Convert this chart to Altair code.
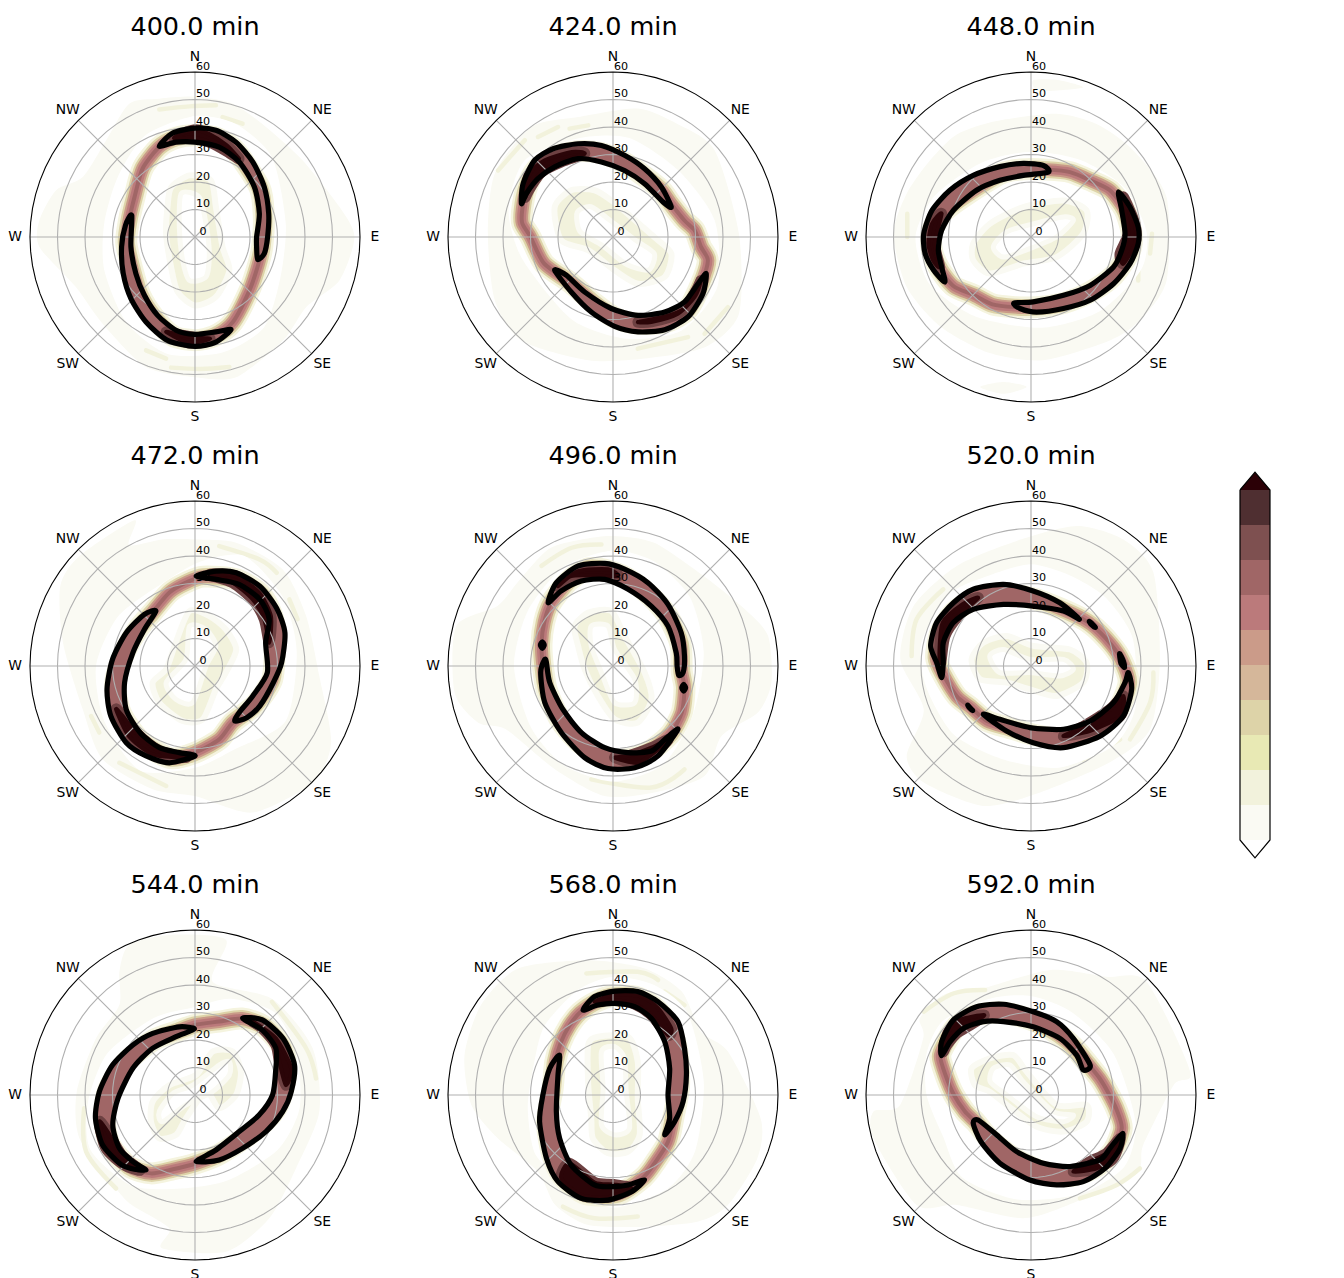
import altair as alt
import pandas as pd

FONT = "DejaVu Sans"
TIMES = [400.0, 424.0, 448.0, 472.0, 496.0, 520.0, 544.0, 568.0, 592.0]
RANGE_TICKS = [0, 10, 20, 30, 40, 50, 60]
RING_RADII = [10, 20, 30, 40, 50]
RING_AZIMUTH = list(range(0, 360, 5))
COMPASS_LABELS = ["N", "NE", "E", "SE", "S", "SW", "W", "NW"]
COMPASS_AZIMUTH = [0, 45, 90, 135, 180, 225, 270, 315]
W_LOWER = [0, 1, 2, 3, 4, 5, 6, 7, 8, 9]
W_UPPER = [1, 2, 3, 4, 5, 6, 7, 8, 9, 10]
W_COLORS = ["#fafaf3", "#f2f2dc", "#e8e9b4", "#ddd3a8", "#d5b79a",
            "#cb9b89", "#bb7a7b", "#a06666", "#7e5050", "#4f2f31"]
W_TICKS = [0, 2, 4, 6, 8, 10]

# Outlines are (east km, north km).
# 400 min
C400A = [(-13,33),(-8.1,37.8),(0,39.6),(7.6,38.8),(14.9,34.5),(21,27.3),(25.2,18.2),(26.8,8.5),(26.4,0),(25.2,-6),(22.8,-8.2),(22.4,-3.6),(22.4,0),(23.4,8.5),(21.6,18.2),(16.1,27.3),(8.8,32.7),(0,34.5),(-6.9,34.5)]
C400B = [(-23,7.9),(-25.3,4.2),(-26.7,-3.6),(-26.1,-13.3),(-23.3,-22.4),(-17.8,-30.9),(-10,-37.6),(0,-39.8),(7.6,-38.2),(13.1,-33.7),(7.6,-34.5),(0,-35.4),(-6.9,-33.9),(-13.6,-28.5),(-18.4,-21.2),(-21.5,-13.3),(-23.3,-3.6)]
D400A = [(-7,36.5),(0,39),(5,37.5),(11.3,33.5),(16,28.5),(12.6,30.5),(6.4,34),(0,36),(-7,35.8)]
D400B = [(-10.5,-34.5),(-4,-38),(0,-38.5),(5.5,-37),(0,-36.5),(-6,-35.5)]
B400 = [(0,37),(8,36),(15,31),(23.5,18),(25,8),(24.5,-3),(23,-10),(19.8,-19.4),(13.7,-31),(7,-36),(0,-37.5),(-8,-36),(-15,-29),(-20,-21),(-23,-11),(-25,-2),(-24,6),(-22,14.5),(-19,25),(-13,32.7),(-7,36)]
O400 = [(0,51),(13.7,48.5),(25.8,40),(39,28),(52.5,11),(58,0),(52.5,-15.8),(40.4,-25.5),(32,-37.6),(15,-51),(0,-51),(-17.8,-47.3),(-33.6,-31.5),(-43.3,-18.2),(-56.6,-3.6),(-56.6,6),(-50.5,17),(-40.8,21.8),(-32.4,35),(-23.9,48.5),(-13,50.3)]
G400 = [(0,44),(15,41),(28,29),(33,5),(31,-15),(25,-33),(10,-42),(-10,-42.5),(-25,-31),(-33,-12),(-33,5),(-28,22),(-18,37)]
I400 = [(-8.7,18),(-2,22.4),(5.8,20.6),(7.6,10.9),(10,-3.6),(12.5,-12.1),(7.6,-21.8),(0,-24.9),(-6.3,-20),(-8.7,-10.9),(-10.5,1.2),(-10,10.9)]
H400 = [(-5,15.8),(1.5,14.5),(4,4.8),(5.2,-6),(4,-14.5),(-2,-15.8),(-4.5,-8.5),(-5.7,3.6)]
Y400 = [[(-13,46.4),(-2,47.5),(7.6,47.9)],[(10,43.6),(17.3,41.2)],[(-17.8,-41.2),(-10.5,-44.2)],[(-8.7,-47.5),(2,-48),(12.5,-47.3)]]

# 424 min
C424A = [(-33.3,12.1),(-32.7,19.4),(-28.5,27.9),(-21.8,32.1),(-12.7,33.9),(-4.2,33.3),(4.2,29.7),(11.5,24.8),(17.6,18.2),(21.2,10.9),(18.2,12.7),(11.5,19.4),(4.2,24.2),(-4.2,27.3),(-12.7,28.5),(-21.2,25.5),(-27.3,21.2),(-31.5,15.8)]
C424B = [(33.9,-13.3),(32.7,-20.6),(27.3,-29),(18.8,-33.7),(9.1,-34.5),(0.6,-32.5),(-7.9,-27.3),(-15.2,-20),(-21.2,-12.1),(-17,-13.9),(-10.3,-20),(-0.6,-26),(9.1,-28.5),(18.8,-27.3),(26,-23.6),(30.9,-17)]
D424A = [(-32,14.5),(-30.3,23),(-24.8,27.9),(-15,30.9),(-10.3,30.3),(-18.8,27.3),(-26,23.6),(-30.3,17.6)]
D424B = [(32,-15.8),(29.7,-21.8),(23.6,-27.9),(13.9,-30.9),(9.1,-30.9),(18.8,-29),(26,-26),(30.3,-19.4)]
B424 = [(-33,5),(-30,0),(-25,-9.7),(-15,-17),(-7,-24),(1,-29.5),(9,-31.5),(19,-31),(27,-26.5),(32,-17),(34.5,-8.5),(32,-3.6),(29.7,2.4),(26,6),(21.2,12),(17.6,17),(11.5,22),(4.2,27),(-4.2,30.5),(-12.7,31.2),(-21.5,29),(-28,24.5),(-31.5,17.5),(-33,10)]
O424 = [(-12.7,43.6),(9,46.7),(23.6,41),(37,31.5),(45.8,1.2),(45.8,-27.9),(33.6,-40),(11.5,-44.2),(-9,-44.8),(-33.3,-37.6),(-43,-23),(-45.5,1.2),(-43,23),(-29.7,40)]
G424 = [(-12,36),(6,36),(24,24),(37,6),(38,-18),(25,-34),(5,-37),(-15,-30),(-33,-8),(-38,10),(-32,28)]
I424 = [(-21.2,10.9),(-15.2,17),(-6.7,17),(-0.6,13.3),(6.6,7.3),(15,0),(21.2,-6),(18.8,-14.5),(9.1,-17),(0.6,-12.1),(-9,-4.8),(-18.8,-1.2)]
H424 = [(-13,9),(-8,11),(-1,6),(8,-1),(15,-6),(13,-12),(5,-10),(-4,-3),(-12,2)]
Y424 = [[(-27.3,36.4),(-20,40)],[(-15.8,39.4),(-9,40.6)],[(-41.8,24.2),(-32.1,35.2)],[(33.3,-35.2),(41.8,-25.5)],[(9,-40.6),(27.3,-36.4)]]

# 448 min
C448A = [(6.3,23.6),(4.5,26),(-2.8,26.8),(-11.3,25.6),(-21,22.4),(-29.5,17),(-36,9.7),(-39,1.2),(-38.5,-6),(-35.4,-12.1),(-31.3,-16.4),(-32.5,-10.9),(-33.7,-4.8),(-32.5,2.4),(-28.2,9.7),(-19.8,17),(-11.3,20.6),(-2.8,22.4)]
C448B = [(31.8,16.4),(36,10.9),(39,3.6),(39,-2.4),(36,-9.7),(30,-17),(21.5,-23),(11.8,-26),(2,-27.3),(-4,-26),(-6.2,-24),(0.8,-23.6),(11.8,-21.2),(21.5,-17.6),(30,-10.9),(33,-4.8),(34.2,1.2),(33,9.7)]
D448A = [(-37.3,-2.4),(-36,4.8),(-32.5,8.5),(-35,-2.4),(-33.2,-10.9),(-35.6,-8.5)]
D448B = [(33.6,14.5),(37.8,4.8),(37.8,-2.4),(33.6,-9.7),(32.4,-6),(35.4,1.2),(34.2,9.7)]
B448 = [(-3,24.6),(6,24.5),(14.2,23.6),(21.5,20.6),(28.7,17),(34,10),(36.5,2),(36,-5),(30,-14),(21.5,-20),(12,-24),(2,-25.5),(-6,-25.5),(-14,-24.5),(-21,-21),(-28,-18),(-33,-12),(-36,-5),(-36,2),(-32,9),(-24,15),(-11,23)]
O448 = [(-27,37.3),(-12.5,42.2),(9.3,44.8),(24,41),(37.2,31.5),(49.3,14.5),(49.3,-15.8),(39.6,-30.3),(28.7,-37.6),(4.5,-44.8),(-15,-42.2),(-33,-32.5),(-45.2,-18.2),(-50,1.2),(-45.2,15.8),(-36.7,27.9)]
E448A = [(0.8,57),(9.3,57.2),(19,54.5),(9.3,53.3),(2,53.3)]
E448B = [(-18.5,-54.5),(-10,-52.7),(-1.6,-54.5),(-10,-57)]
G448 = [(0,31),(18,28),(34,18),(42,2),(40,-12),(25,-27),(4,-33),(-20,-29),(-37,-17),(-42,0),(-35,15),(-18,27)]
I448 = [(-21,-2.4),(-15,4.8),(-2.8,10.9),(11.8,13.3),(20.2,9.7),(19,1.2),(9.3,-7.3),(-2.8,-9.7),(-15,-13.3),(-21,-8.5)]
H448 = [(-13.7,-3.6),(-9,1.8),(0.8,4.8),(11.8,7.3),(15.4,6),(9.3,0),(-0.4,-4.2),(-10,-7.3)]
Y448 = [[(-45,8.5),(-45,0)],[(44,1.2),(43.3,-6)],[(39,-11),(39,-15.8)]]

# 472 min
C472A = [(0.4,32.7),(7.6,34.5),(15,33.9),(23.6,29),(29.7,21),(32.7,12.1),(31.5,1.2),(28.5,-6),(23.6,-14.5),(18.8,-18.8),(14.5,-20),(16,-17),(21,-10.9),(26.3,-2.4),(25.7,8.5),(27,17),(23.6,24.2),(16,29.7),(7.6,31.5)]
C472B = [(-14.2,20),(-18.4,18.8),(-25,12.1),(-30,2.4),(-32,-8.5),(-30.6,-18.2),(-25,-27.9),(-17.8,-32.7),(-9.3,-35.2),(0,-32.7),(-5.7,-31.5),(-12.9,-29.7),(-20,-24.2),(-25,-15.8),(-25.6,-6),(-22.6,4.8),(-18.4,13.3)]
D472A = [(5.2,33.3),(14.9,32.7),(23.3,26.7),(27.6,18.2),(27,8.5),(25.2,17),(21,24.2),(13.7,30.3)]
D472B = [(-28.7,-15.8),(-24,-25.5),(-15.4,-32.1),(-3.3,-33.3),(-13,-30.9),(-21.5,-24.2),(-26.3,-18.2)]
B472 = [(3,32.5),(15,31.5),(24,26),(28.5,17),(29,6),(28,-5),(22,-14),(13.7,-20.6),(8.8,-26.7),(0,-31.5),(-9,-33.5),(-20,-27),(-27,-17),(-29,-6),(-26,4),(-21,13),(-15.5,19.5),(-9.3,26.7),(-3.3,30.3)]
O472 = [(0,46),(15,44.8),(32,35),(40.4,18.2),(45.2,-3.6),(49.5,-27.9),(42.8,-42.4),(21,-53.3),(0,-47.3),(-15.4,-44.8),(-33.6,-33.9),(-40.8,-15.8),(-48,8.5),(-49,29),(-42,40),(-22,53),(-24,44),(-12,46)]
G472 = [(2,38),(18,40),(32,25),(37,5),(33,-20),(15,-30),(0,-37),(-20,-38),(-33,-20),(-36,0),(-28,18),(-12,30)]
I472 = [(-2,20),(5.2,18.2),(11.2,13.3),(15,6),(11.2,-2.4),(7.6,-8.5),(2.8,-19.4),(-4.5,-20),(-13,-13.3),(-15.4,-6),(-10.5,-1.2),(-7,8.5)]
H472 = [(-2,14.5),(4,13.3),(7.6,7.3),(4,0),(-0.8,-13.3),(-7,-12.1),(-10.5,-6),(-3.3,2.4)]
Y472 = [[(8.8,43.6),(23.3,38.8),(29.7,33.9)],[(34.3,24.2),(37.3,17)],[(-27.5,-35.2),(-10.5,-43.6)],[(-37.8,-18.2),(-34.8,-24.2)]]

# 496 min
C496A = [(-23.6,23),(-20.6,30.3),(-12.7,36.4),(-3,37.3),(4.2,35.2),(12.7,30.3),(20,22.4),(24.8,12.1),(26,3.6),(25.5,-2.4),(23.9,-3.4),(23.3,0),(23,4.8),(20,14.5),(13.9,21.8),(5.5,27.9),(-3,31.5),(-11.5,30.9),(-18.8,27.3)]
C496B = [(-24.8,2.4),(-26.3,-2.4),(-24.8,-13.3),(-18.8,-24.2),(-10.3,-33.3),(-1.8,-37.3),(7.9,-37),(16.4,-32.7),(23.6,-23),(18.8,-26.7),(14,-30.9),(5.5,-31.5),(-3,-29.7),(-11.5,-24.2),(-18.2,-15.8),(-23,-6),(-24.2,1.2)]
S496A = [(-25.7,8.8),(-25,7.6),(-25.7,6.4),(-26.4,7.6)]
S496B = [(25.7,-6.7),(26.4,-7.9),(25.7,-9.1),(25,-7.9)]
D496A = [(-20,29),(-12.7,34.5),(-1.8,35.2),(1.8,32.7),(-6.7,32.9),(-15.2,32.7)]
D496B = [(0.6,-33.3),(9,-35.2),(16.4,-30.3),(20,-26.7),(14,-29.7),(5.5,-32.7)]
B496 = [(-3,35),(5,32),(13,26),(20,18),(24.5,8),(25,-2),(26,-8),(25,-17),(21,-24.5),(14,-30.5),(5,-34),(-4,-33),(-12,-28),(-19,-20),(-24,-9),(-25.5,0),(-26,8),(-25,16),(-22.5,23),(-16,31),(-9,35.5)]
O496 = [(0,47.3),(15,44.8),(33,32.7),(48,20.6),(56.4,10.9),(57.6,-6),(52.7,-16.9),(39.4,-25.5),(33.3,-40),(15,-46),(-3,-47.3),(-21,-37.6),(-39,-23),(-49,-20.6),(-57.6,-9.7),(-57,14.5),(-42,21.8),(-34.8,30.3),(-23.6,42.4),(-11.5,46)]
G496 = [(0,42),(15,38),(28,25),(33,5),(29,-18),(18,-36),(0,-42),(-18,-36),(-30,-22),(-36,0),(-31,20),(-18,36)]
I496 = [(-14,14.5),(-9,19.4),(-0.6,20),(4.2,10.9),(11.5,-2.4),(14,-12.1),(9,-20.6),(0.6,-19.4),(-5.5,-10.9),(-10.3,-1.2),(-12.7,7.3)]
H496 = [(-7.9,14.5),(-1.8,14.5),(0.6,6),(7.9,-4.8),(7.9,-13.3),(0.6,-13.3),(-4.2,-2.4),(-7.9,7.3)]
Y496 = [[(-26,36.4),(-15,43),(-4.2,44.2)],[(-7.9,-41.2),(14,-44.2),(26,-37.6)]]

# 520 min
C520A = [(-32.5,-4.2),(-34.3,1.2),(-36.5,7.3),(-34.3,15.8),(-28.2,23),(-21,27.9),(-10,29.7),(0.8,27.3),(10.5,23),(17.6,17),(11.8,20),(0.8,21.8),(-10,22.4),(-21,20.6),(-28.2,15.8),(-31.9,8.5),(-31.9,1.2)]
C520B = [(35.4,-2.4),(36.6,-8.5),(33.6,-18.2),(25.1,-25.5),(11.8,-29.7),(0.8,-27.9),(-8.9,-23.6),(-17.3,-17.6),(-11.3,-19.4),(-0.4,-22.4),(11.8,-23),(21.5,-20),(30,-13.3),(34.2,-6)]
S520A = [(32.2,4.5),(33.5,2),(34,-0.5),(32.7,1)]
S520B = [(21.2,16.2),(22.6,15),(23.4,14),(22,15)]
S520C = [(-23,-14.2),(-22,-15.4),(-21.2,-16.2),(-22.4,-15.2)]
D520A = [(-33.3,4.8),(-32.1,15.8),(-25,22.4),(-19.2,24.8),(-26.4,18.2),(-31.3,10.9),(-32.8,1.2)]
D520B = [(33.6,-10.9),(32.4,-18.2),(21.5,-23.6),(11.8,-25.5),(19,-22),(28.7,-15.8)]
B520 = [(-32,-3),(-27,-11),(-22,-15),(-16,-20),(-8,-22.5),(1,-25),(12,-26.5),(23,-23),(31.5,-16),(35.5,-6),(33,2),(29,8),(22,15),(15,19),(1,24.5),(-10,26),(-21,24),(-28,19.5),(-33,12),(-34.5,3)]
O520 = [(16.6,50.9),(33.6,46),(44.5,34),(46.9,2.4),(43.3,-23),(28.7,-35),(3.3,-46),(-17.3,-50.9),(-39,-42.4),(-45.2,-32.7),(-39,-15.8),(-47.5,2.4),(-42.7,21.8),(-27,36.4),(-5.2,45.5)]
G520 = [(0,37),(14,33),(27,25),(37,10),(38,-15),(30,-29),(10,-37),(-10,-34),(-28,-25),(-38,-8),(-40,8),(-30,26),(-15,33)]
I520 = [(-21.6,2.4),(-17.3,8.5),(-8.8,10.9),(0.8,7.3),(14.2,6),(20.2,1.2),(19,-6),(9.3,-10.9),(-0.4,-8.5),(-8.8,-6),(-18.5,-4.8)]
H520 = [(-15,3.6),(-10,6),(-0.4,2.4),(11.8,2.4),(15.4,-1.2),(10.5,-3.6),(-0.4,-2.4),(-11.3,-2.4)]
Y520 = [[(-43.4,3.6),(-41.6,17),(-31.9,27.9)],[(44.5,-2.4),(43.3,-13.3),(36,-26.7)],[(19,-34),(32.4,-26.7)]]

# 544 min
C544A = [(-0.2,24),(-5.7,24.8),(-15.4,22.4),(-22.6,18.2),(-30,10.9),(-34.8,1.2),(-36.2,-8.5),(-33.6,-18.2),(-27.5,-24.8),(-23.3,-26.7),(-17.8,-27.3),(-22.6,-24.2),(-27.5,-19.4),(-29.9,-10.9),(-28,-1.2),(-22.6,9.7),(-15.4,17),(-6.9,21.2)]
C544B = [(17.3,27.9),(24.5,27.3),(32,20.6),(36.2,10.9),(35,1.2),(31.9,-6),(25.8,-13.3),(17.3,-19.4),(8.8,-23.6),(0.4,-24.2),(7.6,-20),(16.1,-13.3),(23.3,-7.3),(28.2,0),(29.4,9.7),(29.4,17),(24.5,23.6)]
D544A = [(-34.8,-9.7),(-32.4,-19.4),(-25.7,-25.5),(-20,-27.3),(-26.7,-21.8),(-31.8,-13.3)]
D544B = [(21,26.7),(29.4,20.6),(35,9.7),(33,3.6),(30.7,12.1),(29.4,18.2),(24.5,24.2)]
B544 = [(0,25.5),(8.8,26.7),(17,27.8),(25,25),(32,17),(33,7),(30,-4),(24,-11),(16,-17),(8,-22),(0,-25),(-8,-27),(-16,-28.5),(-24,-26),(-31,-18),(-33,-8),(-31.5,2),(-25,12),(-15,20),(-7,23)]
O544 = [(-27.5,44.8),(-24,54.5),(-9.3,58.2),(11.3,56.4),(6.4,41.2),(28,35),(42.8,17),(45.2,-6),(36.7,-26.7),(27,-44.8),(11.3,-57),(-12,-55.7),(-9.3,-48.5),(-23,-40),(-28.7,-34),(-42,-15.8),(-43,1.2),(-36,20.6),(-27.5,32.7)]
G544 = [(0,32),(13,35),(29,30),(37,15),(38,-5),(30,-20),(12,-31),(-5,-34),(-23,-33),(-38,-20),(-39,-3),(-32,15),(-15,28)]
I544 = [(6.4,15.8),(13.7,15.8),(16.7,8.5),(14.9,0),(8.8,-4.8),(4,1.2),(-3.3,-8.5),(-6.9,-14.5),(-13,-15.8),(-16,-9.7),(-15.4,-2.4),(-9.3,3.6),(0.4,7.3)]
H544 = [(-8,0.6),(-0.8,3.6),(8.8,10.9),(12.5,12.1),(12.5,7.3),(6.4,1.2),(-3.3,-3.6),(-11.8,-9.7),(-13,-6)]
Y544 = [[(28,33.9),(40.4,17),(44,6)],[(-40.3,-4.8),(-39.6,-20.6),(-28.7,-34)]]

# 568 min
C568A = [(-10.9,30.9),(-6.7,35.8),(0.6,37.8),(9,37.6),(16.4,33.9),(23.6,26.7),(26,17),(26.7,7.3),(25.5,-2.4),(22.4,-9.7),(18.8,-14.5),(20.6,-8.5),(20,0),(20.6,9.7),(18.8,19.4),(13.9,27.9),(7.9,32.1),(0.6,33.3),(-5.5,32.7)]
C568B = [(-19.4,14.5),(-23,9.7),(-25.5,0),(-26.7,-9.7),(-24.2,-23),(-20,-31.5),(-11.5,-37.6),(-1.8,-38.2),(6.7,-35.2),(11.5,-30.9),(5.5,-32.7),(0.2,-33.3),(-6.7,-32.7),(-15.2,-25.5),(-19.4,-15.8),(-20.6,-6),(-20,7.3)]
D568A = [(-6.7,33.9),(0.6,36.6),(10.3,35.8),(16.4,31.5),(21.2,24.2),(20,21.8),(14,29),(7.9,33),(0.6,34.5)]
D568B = [(-18.8,-30.3),(-11.5,-36.4),(-1.8,-37.2),(6.7,-34),(0.2,-32.5),(-6.7,-31.8),(-15.8,-24.8)]
B568 = [(0,36),(9,35.5),(16,31),(21,24),(23.5,15),(24,3),(22,-8),(20,-17),(15,-25),(11,-30),(2,-36),(-10,-36),(-18,-30),(-22,-22),(-24,-10),(-22,2),(-21,12),(-19,19),(-16,25),(-12,30),(-6,34)]
O568 = [(-54,14.5),(-48,32.7),(-34.5,46),(-9,49),(11.5,46),(25,37.6),(32,23),(41.8,15.8),(53.7,-8.5),(52.5,-23),(41.8,-40),(31,-46),(11.5,-47.9),(-9,-47.3),(-21,-40),(-27.3,-27.9),(-41.8,-15.8),(-51.5,-3.6)]
G568 = [(0,43),(15,40),(27,30),(33,5),(30,-20),(20,-34),(0,-41),(-15,-33),(-28,-22),(-31,-5),(-29,10),(-25,25),(-13,38)]
I568 = [(-9,18.2),(-5.5,21.2),(5.5,21.2),(9,12.1),(9,-1.2),(9.7,-14.5),(5.5,-20.6),(-1.8,-21.2),(-7.3,-15.8),(-7.9,-8.5),(-9,3.6)]
H568 = [(-4.2,15.8),(0.6,17.6),(4.2,13.3),(4.8,1.2),(6,-12.1),(0.6,-14.5),(-4.2,-10.9),(-3.6,2.4)]
Y568 = [[(-9.7,44.2),(9,44.8),(16.4,41.8)],[(-18.2,-40.6),(-6.7,-44.8),(9,-44.2)],[(18.8,37.6),(26,32.7)]]

# 592 min
C592A = [(-32.5,14.3),(-32.5,19.4),(-28.2,27.3),(-19.8,32.1),(-10,33),(0.8,30.3),(9.3,26.7),(15.4,20.6),(21.5,10.9),(19,9.1),(16.6,14.5),(10.5,20.6),(0.8,24.8),(-10,26.7),(-17.3,26.7),(-24.6,24.2),(-29.4,19.4)]
C592B = [(-19.2,-9.1),(-21,-10.3),(-18.2,-17),(-11.3,-24.8),(-0.4,-30.9),(9.3,-32.7),(19,-31.5),(26.9,-26.7),(32.4,-19.4),(33.3,-13.9),(28.7,-19.4),(25,-23.6),(14.2,-26),(4.5,-24.8),(-5.2,-20.6),(-12.5,-14.5)]
D592A = [(-31.9,15.8),(-30,23),(-25.8,27.3),(-17,29.1),(-22,25.5),(-27,22.4),(-30.6,18.2)]
D592B = [(32.4,-15.8),(29.9,-23),(23.9,-26.7),(15.4,-27.9),(21.5,-24.2),(27.5,-21.2)]
B592 = [(-33,14),(-31,7),(-28,0),(-24,-6),(-20,-10),(-15,-16),(-6,-23),(4.5,-28),(14,-29.5),(24,-26),(30,-20),(33,-12),(31,-5),(28,1),(25,6),(21,11),(16,17),(10,22),(1,27),(-10,30),(-20,29),(-27,25),(-31,19)]
O592 = [(7,45.5),(27.5,43),(42,41.2),(57.9,8.5),(51.9,3.6),(40.8,-18.2),(38.4,-27.9),(16.4,-38.8),(-2.8,-44.8),(-27,-40),(-41.6,-40),(-57.3,-15.8),(-57.3,-6),(-47.6,-3.6),(-39.2,20.6),(-40.4,27.9),(-31.9,36.4),(-17.3,38.8)]
G592 = [(0,36),(15,30),(30,15),(38,-10),(34,-26),(18,-36),(-5,-38),(-25,-30),(-32,-15),(-38,0),(-38,15),(-32,27),(-15,35)]
I592 = [(-21.6,9.7),(-15,13.3),(-6.4,14.5),(-1.6,8.5),(9.3,-3.6),(20.2,-3.6),(20.2,-9.7),(11.8,-13.3),(2,-11.5),(-8.8,-3.6),(-15,1.2),(-20.4,3.6)]
H592 = [(-13.7,9.7),(-7.6,10.9),(-2.8,4.8),(8.1,-6),(15.4,-7.3),(11.8,-9.7),(2,-7.9),(-8.8,0),(-14.8,4.8)]
Y592 = [[(-39,30.3),(-28,37),(-16.7,38.2)],[(17.8,-37.6),(31.2,-32.7),(39.6,-26.7)]]

CONTOURS = [[C400A,C400B],[C424A,C424B],[C448A,C448B],[C472A,C472B],[C496A,C496B,S496A,S496B],
            [C520A,C520B,S520A,S520B,S520C],[C544A,C544B],[C568A,C568B],[C592A,C592B]]
CORES = [[D400A,D400B],[D424A,D424B],[D448A,D448B],[D472A,D472B],[D496A,D496B],
         [D520A,D520B],[D544A,D544B],[D568A,D568B],[D592A,D592B]]
CRESCENTS = [c[:2] for c in CONTOURS]
BANDS = [B400,B424,B448,B472,B496,B520,B544,B568,B592]
OUTER = [[O400],[O424],[O448,E448A,E448B],[O472],[O496],[O520],[O544],[O568],[O592]]
GAPS = [G400,G424,G448,G472,G496,G520,G544,G568,G592]
INNER = [I400,I424,I448,I472,I496,I520,I544,I568,I592]
HOLES = [H400,H424,H448,H472,H496,H520,H544,H568,H592]
STREAKS = [Y400,Y424,Y448,Y472,Y496,Y520,Y544,Y568,Y592]

PX = 330
XS = alt.Scale(domain=[-60, 60], nice=False, zero=False)
YS = alt.Scale(domain=[-60, 60], nice=False, zero=False)
XE = alt.X("e:Q", scale=XS, axis=None)
YE = alt.Y("n:Q", scale=YS, axis=None)


def frame(pts):
    return pd.DataFrame({"e": [p[0] for p in pts], "n": [p[1] for p in pts], "i": list(range(len(pts)))})


def poly(pts, **mark):
    return alt.Chart(frame(pts)).mark_line(interpolate="cardinal-closed", tension=0.25,
                                           strokeJoin="round", **mark).encode(
        x=XE, y=YE, order=alt.Order("i:Q"))


def solid(pts, color, halo=None, halo_width=0):
    if halo:
        return poly(pts, fill=color, stroke=halo, strokeWidth=halo_width)
    return poly(pts, fill=color, strokeOpacity=0)


def streaks(lines):
    rows = []
    for s, line in enumerate(lines):
        for i, p in enumerate(line):
            rows.append({"e": p[0], "n": p[1], "i": i, "s": s})
    return alt.Chart(pd.DataFrame(rows)).mark_line(interpolate="cardinal", stroke="#f2f2dc", strokeWidth=4.5,
                                                   strokeCap="round").encode(
        x=XE, y=YE, order=alt.Order("i:Q"), detail="s:N")


def circles(radii, color):
    rows = [{"r": r, "az": a} for r in radii for a in RING_AZIMUTH]
    return alt.Chart(pd.DataFrame(rows)).transform_calculate(
        e="datum.r*sin(datum.az*PI/180)", n="datum.r*cos(datum.az*PI/180)"
    ).mark_line(interpolate="linear-closed", stroke=color, strokeWidth=1.1).encode(
        x=XE, y=YE, order=alt.Order("az:Q"), detail="r:N")


def furniture():
    spokes = alt.Chart(pd.DataFrame({"az": COMPASS_AZIMUTH})).transform_calculate(
        e0="0", n0="0", e="60*sin(datum.az*PI/180)", n="60*cos(datum.az*PI/180)"
    ).mark_rule(stroke="#b0b0b0", strokeWidth=1.1).encode(
        x=alt.X("e0:Q", scale=XS, axis=None), y=alt.Y("n0:Q", scale=YS, axis=None), x2="e:Q", y2="n:Q")
    return [circles(RING_RADII, "#b0b0b0"), spokes]


def overlay():
    ticks = alt.Chart(pd.DataFrame({"r": RANGE_TICKS, "e": [0] * len(RANGE_TICKS)})).mark_text(
        dx=8, dy=-5.5, fontSize=11.1, font=FONT, color="#000000").encode(
        x=XE, y=alt.Y("r:Q", scale=YS, axis=None), text="r:Q")
    comp = alt.Chart(pd.DataFrame({"label": COMPASS_LABELS, "az": COMPASS_AZIMUTH})).transform_calculate(
        e="65.45*sin(datum.az*PI/180)", n="65.45*cos(datum.az*PI/180)"
    ).mark_text(fontSize=13.9, font=FONT, color="#000000").encode(x=XE, y=YE, text="label:N")
    return [circles([60], "#000000"), ticks, comp]


def panel(k):
    layers = []
    for o in OUTER[k]:
        layers.append(solid(o, W_COLORS[0]))
    layers.append(streaks(STREAKS[k]))
    layers.append(solid(GAPS[k], "#ffffff"))
    layers.append(poly(BANDS[k], fill="#ffffff", stroke="#f5f4df", strokeWidth=22))
    layers.append(poly(BANDS[k], stroke="#ddd3a8", strokeWidth=17))
    layers.append(poly(BANDS[k], stroke="#c99a88", strokeWidth=13))
    layers.append(poly(BANDS[k], stroke="#bb7a7b", strokeWidth=9))
    layers.append(poly(BANDS[k], stroke="#a06666", strokeWidth=4))
    layers.append(solid(INNER[k], W_COLORS[1], W_COLORS[0], 6))
    layers.append(solid(HOLES[k], "#ffffff", W_COLORS[0], 5))
    for c in CRESCENTS[k]:
        layers.append(solid(c, "#a06666"))
    for d in CORES[k]:
        layers.append(solid(d, "#6d4142", "#6d4142", 11))
        layers.append(solid(d, "#2b0508", "#2b0508", 4))
    layers += furniture()
    for c in CONTOURS[k]:
        layers.append(poly(c, stroke="#000000", strokeWidth=5.2))
    layers += overlay()
    return alt.layer(*layers).properties(
        width=PX, height=PX,
        title=alt.TitleParams(f"{TIMES[k]:.1f} min", fontSize=25.5, font=FONT, fontWeight="normal",
                              anchor="middle", offset=10))


rows = [alt.hconcat(*[panel(r * 3 + c) for c in range(3)], spacing=46) for r in range(3)]
grid = alt.vconcat(*rows, spacing=19)

# colour bar
bar_y = alt.Y("lo:Q",
              scale=alt.Scale(domain=[0, 10], range=[768, 418], nice=False, zero=False),
              axis=alt.Axis(values=W_TICKS, orient="right", grid=False, domain=False, tickSize=5, tickColor="#000000",
                            format="d", labelFontSize=19.4, labelFont=FONT, labelColor="#000000", labelPadding=4,
                            title="W (m s⁻¹)", titleFont=FONT, titleFontSize=19.4, titleFontWeight="normal",
                            titleColor="#000000", titleAngle=270, titlePadding=14))
bar_df = pd.DataFrame({"lo": W_LOWER, "hi": W_UPPER, "c": W_COLORS})
bar = alt.Chart(bar_df).mark_rect().encode(
    x=alt.value(0), x2=alt.value(30), y=bar_y, y2="hi:Q",
    color=alt.Color("c:N", scale=None, legend=None))

EXT_UP_X = [0, 0.5, 1]
EXT_UP_W = [10, 10.51, 10]
EXT_DN_X = [0, 0.5, 1]
EXT_DN_W = [0, -0.51, 0]
OUT_X = [0, 0.5, 1, 1, 0.5, 0, 0]
OUT_W = [10, 10.51, 10, 0, -0.51, 0, 10]
bx = alt.X("x:Q", scale=alt.Scale(domain=[0, 1], nice=False, zero=False), axis=None)
by = alt.Y("lo:Q", axis=None)


def tri(xs, ws, fill):
    df = pd.DataFrame({"x": xs, "lo": ws, "i": list(range(len(xs)))})
    return alt.Chart(df).mark_line(interpolate="linear-closed", fill=fill, strokeOpacity=0).encode(
        x=bx, y=by, order=alt.Order("i:Q"))


out_df = pd.DataFrame({"x": OUT_X, "lo": OUT_W, "i": list(range(len(OUT_X)))})
outline = alt.Chart(out_df).mark_line(stroke="#000000", strokeWidth=1.2).encode(
    x=bx, y=by, order=alt.Order("i:Q"))

cbar = alt.layer(bar, tri(EXT_UP_X, EXT_UP_W, "#2b0006"), tri(EXT_DN_X, EXT_DN_W, "#ffffff"), outline).properties(
    width=30, height=1186)

chart = alt.hconcat(grid, cbar, spacing=21).configure_view(stroke=None).properties(
    padding={"left": 0, "top": 6, "right": 0, "bottom": 0}, background="#ffffff")

chart.save("out.html", embed_options={"renderer": "svg", "actions": False})
